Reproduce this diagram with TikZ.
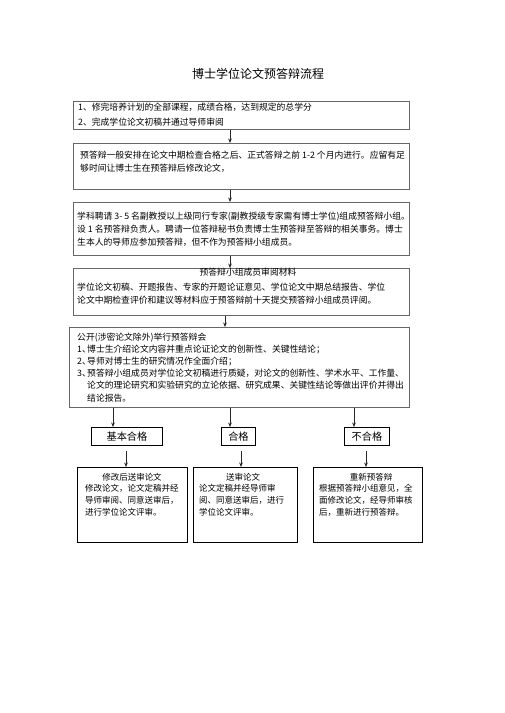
\documentclass[tikz,border=0pt]{standalone}
\usepackage{fontspec}
\setmainfont{Noto Sans CJK SC}
\usetikzlibrary{arrows.meta}
\begin{document}
\begin{tikzpicture}[x=1pt,y=-1pt,
  ubox/.style={draw=black!60, line width=0.8pt, anchor=north west, inner sep=0pt},
  lbox/.style={draw=black, line width=0.9pt, anchor=north west, inner sep=0pt},
  sbox/.style={draw=black, line width=0.9pt, anchor=north west, inner sep=0pt, font=\fontsize{10.2}{12}\selectfont},
  txt/.style={anchor=north west, inner sep=0pt, align=left, font=\fontsize{8.8}{13}\selectfont},
  btxt/.style={anchor=north west, inner sep=0pt, align=left, font=\fontsize{8.5}{12}\selectfont},
  ttl/.style={inner sep=0pt, font=\fontsize{8.5}{12}\selectfont},
  arr/.style={-{Stealth[length=4.5pt,width=3.6pt]}, line width=0.8pt, draw=black!85}]
\useasboundingbox (0,0) rectangle (504,713);
\fill[white] (0,0) rectangle (504,713);

% title
\node[inner sep=0pt, font=\fontsize{12}{14}\selectfont] (title) at (258,74) {博士学位论文预答辩流程};

% boxes
\node[ubox, minimum width=336pt, minimum height=28pt] (b1) at (73,101) {};
\node[ubox, minimum width=336pt, minimum height=46pt] (b2) at (73,143) {};
\node[ubox, minimum width=336pt, minimum height=53pt] (b3) at (73,202) {};
\node[ubox, minimum width=336pt, minimum height=47pt] (b4) at (73,268) {};
\node[ubox, minimum width=340pt, minimum height=80pt] (b5) at (69,327) {};

\node[sbox, minimum width=71pt, minimum height=18pt] (sA) at (91,427) {基本合格};
\node[sbox, minimum width=34pt, minimum height=18pt] (sB) at (221,427) {合格};
\node[sbox, minimum width=45pt, minimum height=18pt] (sC) at (344,427) {不合格};

\node[lbox, minimum width=110pt, minimum height=75pt] (dA) at (77,467) {};
\node[lbox, minimum width=104pt, minimum height=75pt] (dB) at (193,467) {};
\node[lbox, minimum width=109pt, minimum height=75pt] (dC) at (313,467) {};

% texts
\node[txt, font=\fontsize{8.8}{15}\selectfont] (t1) at (78,102.5) {1、修完培养计划的全部课程，成绩合格，达到规定的总学分\\2、完成学位论文初稿并通过导师审阅};
\node[txt] (t2) at (80,150.5) {预答辩一般安排在论文中期检查合格之后、正式答辩之前 1-2 个月内进行。应留有足\\够时间让博士生在预答辩后修改论文，};
\node[txt] (t3) at (77,211.5) {学科聘请 3- 5 名副教授以上级同行专家(副教授级专家需有博士学位)组成预答辩小组。\\设 1 名预答辩负责人。聘请一位答辩秘书负责博士生预答辩至答辩的相关事务。博士\\生本人的导师应参加预答辩，但不作为预答辩小组成员。};
\node[inner sep=0pt, font=\fontsize{8.8}{13}\selectfont] (t4h) at (248,272) {预答辩小组成员审阅材料};
\node[txt] (t4) at (77,282.5) {学位论文初稿、开题报告、专家的开题论证意见、学位论文中期总结报告、学位\\论文中期检查评价和建议等材料应于预答辩前十天提交预答辩小组成员评阅。};
\node[txt, font=\fontsize{8.8}{12.2}\selectfont] (t5) at (77,332.5) {公开(涉密论文除外)举行预答辩会\\
\makebox[10pt][l]{1、}博士生介绍论文内容并重点论证论文的创新性、关键性结论；\\
\makebox[10pt][l]{2、}导师对博士生的研究情况作全面介绍；\\
\makebox[10pt][l]{3、}预答辩小组成员对学位论文初稿进行质疑，对论文的创新性、学术水平、工作量、\\
\hspace*{10pt}论文的理论研究和实验研究的立论依据、研究成果、关键性结论等做出评价并得出\\
\hspace*{10pt}结论报告。};

\node[ttl] (hA) at (132,477) {修改后送审论文};
\node[btxt] (tA) at (85,484.5) {修改论文，论文定稿并经\\导师审阅、同意送审后，\\进行学位论文评审。};
\node[ttl] (hB) at (243,477) {送审论文};
\node[btxt] (tB) at (199,484.5) {论文定稿并经导师审\\阅、同意送审后，进行\\学位论文评审。};
\node[ttl] (hC) at (371,477) {重新预答辩};
\node[btxt] (tC) at (319,484.5) {根据预答辩小组意见，全\\面修改论文，经导师审核\\后，重新进行预答辩。};

% arrow columns
\coordinate (x1) at (230,0);
\coordinate (x2) at (225,0);
\coordinate (xa) at (113,0);
\coordinate (xb) at (230,0);
\coordinate (xc) at (354,0);
\coordinate (ya) at (126,0);
\coordinate (yb) at (241,0);
\coordinate (yc) at (366,0);

\draw[arr] (b1.south -| x1) -- (b2.north -| x1);
\draw[arr] (b2.south -| x1) -- (b3.north -| x1);
\draw[arr] (b3.south -| x1) -- (b4.north -| x1);
\draw[arr] (b4.south -| x2) -- (b5.north -| x2);
\draw[arr] (b5.south -| xa) -- (sA.north -| xa);
\draw[arr] (b5.south -| xb) -- (sB.north -| xb);
\draw[arr] (b5.south -| xc) -- (sC.north -| xc);
\draw[arr] ([yshift=-5pt]sA.south -| ya) -- (dA.north -| ya);
\draw[arr] ([yshift=-5pt]sB.south -| yb) -- (dB.north -| yb);
\draw[arr] ([yshift=-5pt]sC.south -| yc) -- (dC.north -| yc);
\end{tikzpicture}
\end{document}
